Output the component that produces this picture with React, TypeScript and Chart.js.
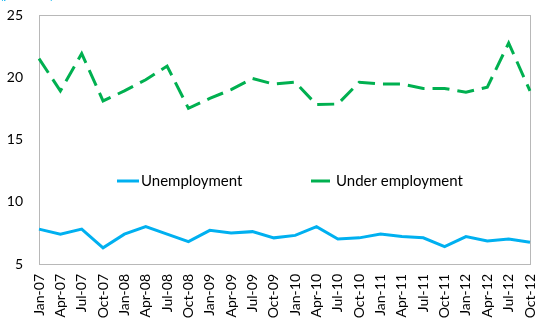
import React, { useEffect, useRef } from "react";
import { Chart, registerables } from "chart.js";

Chart.register(...registerables);

const labels = [
  "Jan-07", "Apr-07", "Jul-07", "Oct-07",
  "Jan-08", "Apr-08", "Jul-08", "Oct-08",
  "Jan-09", "Apr-09", "Jul-09", "Oct-09",
  "Jan-10", "Apr-10", "Jul-10", "Oct-10",
  "Jan-11", "Apr-11", "Jul-11", "Oct-11",
  "Jan-12", "Apr-12", "Jul-12", "Oct-12",
];

const unemployment = [
  7.8, 7.4, 7.8, 6.3,
  7.4, 8.0, 7.4, 6.8,
  7.7, 7.5, 7.6, 7.1,
  7.3, 8.0, 7.0, 7.1,
  7.4, 7.2, 7.1, 6.4,
  7.2, 6.85, 7.0, 6.75,
];

const underEmployment = [
  21.5, 18.9, 21.9, 18.1,
  18.9, 19.8, 20.9, 17.5,
  18.3, 19.0, 19.9, 19.45,
  19.6, 17.8, 17.85, 19.6,
  19.45, 19.45, 19.1, 19.1,
  18.8, 19.2, 22.75, 18.9,
];

const yTicks = [5, 10, 15, 20, 25];

const BLUE = "#00B0F0";
const GREEN = "#00B050";
const FONT = "Lato, 'Open Sans', sans-serif";

export default function App() {
  const ref = useRef<HTMLCanvasElement | null>(null);

  useEffect(() => {
    if (!ref.current) return;
    const framePlugin = {
      id: "frame",
      beforeDatasetsDraw(chart: any) {
        const { ctx, chartArea } = chart;
        ctx.save();
        ctx.strokeStyle = "#B8B8B8";
        ctx.lineWidth = 1;
        ctx.strokeRect(
          Math.round(chartArea.left) + 0.5,
          Math.round(chartArea.top) + 0.5,
          Math.round(chartArea.right - chartArea.left),
          Math.round(chartArea.bottom - chartArea.top)
        );
        ctx.restore();
      },
      afterDraw(chart: any) {
        const { ctx } = chart;
        ctx.save();
        ctx.fillStyle = BLUE;
        ctx.font = `13px ${FONT}`;
        ctx.textBaseline = "alphabetic";
        ctx.fillText("(per cent)", 0, -1);
        const ly = 181;
        ctx.lineWidth = 3;
        ctx.strokeStyle = BLUE;
        ctx.beginPath();
        ctx.moveTo(117, ly);
        ctx.lineTo(139, ly);
        ctx.stroke();
        ctx.strokeStyle = GREEN;
        ctx.beginPath();
        ctx.moveTo(311, ly);
        ctx.lineTo(330, ly);
        ctx.stroke();
        ctx.fillStyle = "#000";
        ctx.font = `15px ${FONT}`;
        ctx.textBaseline = "middle";
        ctx.fillText("Unemployment", 141, ly);
        ctx.fillText("Under employment", 336, ly);
        ctx.restore();
      },
    };

    const chart = new Chart(ref.current, {
      type: "line",
      data: {
        labels,
        datasets: [
          {
            label: "Unemployment",
            data: unemployment,
            borderColor: BLUE,
            backgroundColor: BLUE,
            borderWidth: 3,
            pointRadius: 0,
            tension: 0,
            fill: false,
          },
          {
            label: "Under employment",
            data: underEmployment,
            borderColor: GREEN,
            backgroundColor: GREEN,
            borderWidth: 3,
            borderDash: [17, 8],
            pointRadius: 0,
            tension: 0,
            fill: false,
          },
        ],
      },
      options: {
        responsive: false,
        animation: false,
        layout: { padding: { top: 15, right: 5, left: 0, bottom: 0 } },
        plugins: {
          legend: { display: false },
          tooltip: { enabled: false },
        },
        scales: {
          x: {
            offset: false,
            grid: { display: false, drawTicks: false },
            border: { display: true, color: "#B8B8B8" },
            ticks: {
              autoSkip: false,
              minRotation: 90,
              maxRotation: 90,
              padding: 10,
              color: "#000",
              font: { family: FONT, size: 14 },
            },
            afterFit(scale: any) {
              scale.height = 56;
              scale.paddingLeft = 0;
              scale.paddingRight = 0;
            },
          },
          y: {
            min: 5,
            max: 25,
            afterBuildTicks(scale: any) {
              scale.ticks = yTicks.map((v) => ({ value: v }));
            },
            grid: { display: false, drawTicks: false },
            border: { display: true, color: "#B8B8B8" },
            ticks: {
              padding: 16,
              color: "#000",
              font: { family: FONT, size: 14 },
            },
            afterFit(scale: any) {
              scale.width = 39;
              scale.paddingTop = 0;
              scale.paddingBottom = 0;
            },
          },
        },
      },
      plugins: [framePlugin],
    });
    return () => chart.destroy();
  }, []);

  return (
    <div style={{ position: "absolute", left: 0, top: 0, width: 535, height: 320, background: "#fff" }}>
      <canvas ref={ref} width={535} height={320} />
    </div>
  );
}
